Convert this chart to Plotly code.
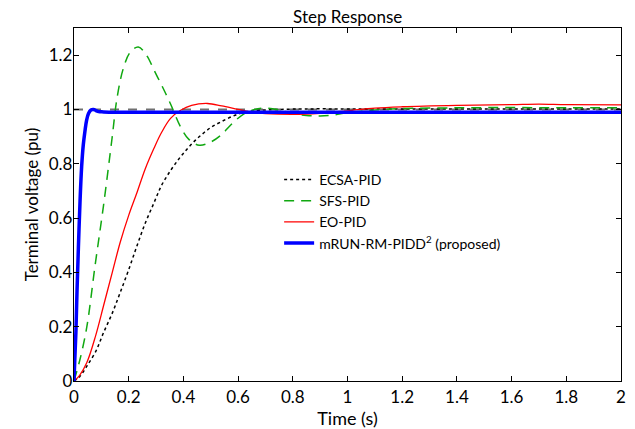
import plotly.graph_objects as go

# ---- data ----
t_ecsa = [0, 0.02, 0.047, 0.08, 0.108, 0.14, 0.169, 0.2, 0.231, 0.26, 0.292, 0.32, 0.353, 0.385, 0.415, 0.445,
          0.476, 0.505, 0.537, 0.58, 0.623, 0.68, 0.75, 0.85, 1.0, 1.2, 1.5, 1.8, 2.0]
y_ecsa = [0, 0.015, 0.055, 0.11, 0.178, 0.25, 0.326, 0.41, 0.5, 0.58, 0.655, 0.72, 0.775, 0.82, 0.856, 0.888,
          0.915, 0.937, 0.954, 0.975, 0.99, 0.997, 1.0, 1.002, 1.002, 1.002, 1.002, 1.002, 1.002]

t_sfs = [0, 0.022, 0.047, 0.077, 0.108, 0.139, 0.157, 0.18, 0.205, 0.235, 0.265, 0.295, 0.325, 0.353, 0.39,
         0.42, 0.458, 0.5, 0.537, 0.58, 0.623, 0.66, 0.7, 0.75, 0.8, 0.85, 0.9, 0.95, 1.0, 1.1, 1.2, 1.4,
         1.6, 1.8, 2.0]
y_sfs = [0, 0.08, 0.2, 0.425, 0.647, 0.893, 1.04, 1.15, 1.21, 1.23, 1.2, 1.14, 1.08, 1.02, 0.935,
         0.89, 0.868, 0.88, 0.905, 0.95, 0.985, 1.0, 1.005, 0.998, 0.985, 0.978, 0.976, 0.98, 0.988, 0.998,
         1.003, 1.006, 1.007, 1.006, 1.006]

t_eo = [0, 0.02, 0.047, 0.08, 0.108, 0.14, 0.169, 0.2, 0.231, 0.26, 0.292, 0.32, 0.353, 0.39, 0.43, 0.488,
        0.54, 0.6, 0.65, 0.7, 0.8, 0.9, 1.0, 1.1, 1.2, 1.4, 1.6, 1.7, 1.8, 2.0]
y_eo = [0, 0.02, 0.068, 0.17, 0.277, 0.4, 0.511, 0.61, 0.696, 0.78, 0.856, 0.915, 0.967, 0.997, 1.015, 1.022,
        1.013, 1.0, 0.99, 0.985, 0.982, 0.986, 0.995, 1.005, 1.01, 1.015, 1.018, 1.02, 1.018, 1.017]

t_prop = [0, 0.003, 0.007, 0.011, 0.016, 0.022, 0.028, 0.034, 0.04, 0.046, 0.053, 0.062, 0.071, 0.08,
          0.09, 0.108, 0.15, 0.3, 0.6, 1.0, 1.5, 2.0]
y_prop = [0, 0.08, 0.18, 0.33, 0.49, 0.66, 0.79, 0.87, 0.92, 0.96, 0.985, 0.998, 1.0, 0.996,
          0.992, 0.991, 0.99, 0.99, 0.99, 0.99, 0.99, 0.99]

ref_t = [0, 2]
ref_value = [1.0, 1.0]

series_names = ["ECSA-PID", "SFS-PID", "EO-PID", "mRUN-RM-PIDD<sup>2</sup> (proposed)"]

x_ticks = [0, 0.2, 0.4, 0.6, 0.8, 1, 1.2, 1.4, 1.6, 1.8, 2]
y_ticks = [0, 0.2, 0.4, 0.6, 0.8, 1, 1.2]

FONT = "Lato, 'Open Sans', sans-serif"

fig = go.Figure()

fig.add_trace(go.Scatter(x=ref_t, y=ref_value, mode="lines", showlegend=False, hoverinfo="skip",
                         line=dict(color="#707070", width=2, dash="dash")))

fig.add_trace(go.Scatter(x=t_ecsa, y=y_ecsa, mode="lines", name=series_names[0], line_shape="spline",
                         line=dict(color="black", width=1.5, dash="dot")))
fig.add_trace(go.Scatter(x=t_sfs, y=y_sfs, mode="lines", name=series_names[1], line_shape="spline",
                         line=dict(color="#10a810", width=1.5, dash="10px,7px")))
fig.add_trace(go.Scatter(x=t_eo, y=y_eo, mode="lines", name=series_names[2], line_shape="spline",
                         line=dict(color="red", width=1.3)))
fig.add_trace(go.Scatter(x=t_prop, y=y_prop, mode="lines", name=series_names[3], line_shape="spline",
                         line=dict(color="#0000ff", width=3.5)))

axis_common = dict(
    showline=True, linecolor="black", linewidth=1.3, mirror="ticks",
    ticks="inside", ticklen=5, tickcolor="black", tickwidth=1,
    showgrid=False, zeroline=False, automargin=False,
    tickfont=dict(family=FONT, size=17, color="black"),
)

fig.update_layout(
    width=635, height=429,
    margin=dict(l=74, r=14, t=28, b=48),
    paper_bgcolor="white", plot_bgcolor="white",
    font=dict(family=FONT, color="black"),
    title=dict(text="Step Response", x=0.5475, xanchor="center", y=0.96, yanchor="middle",
               font=dict(family=FONT, size=17, color="black")),
    xaxis=dict(range=[0, 2], tickvals=x_ticks, ticktext=[str(v) for v in x_ticks],
               title=dict(text="Time (s)", font=dict(family=FONT, size=18), standoff=0), **axis_common),
    yaxis=dict(range=[0, 1.3], tickvals=y_ticks, ticktext=[str(v) for v in y_ticks],
               ticklabelstandoff=-3,
               title=dict(text="Terminal voltage (pu)", font=dict(family=FONT, size=17), standoff=5),
               **axis_common),
    legend=dict(x=0.375, y=0.615, xanchor="left", yanchor="top", bgcolor="rgba(0,0,0,0)",
                font=dict(family=FONT, size=14, color="black"), tracegroupgap=0),
    showlegend=True,
)

fig.write_html("out.html", config={"displayModeBar": False},
               post_script="document.body.style.margin='0';document.body.style.padding='0';")
